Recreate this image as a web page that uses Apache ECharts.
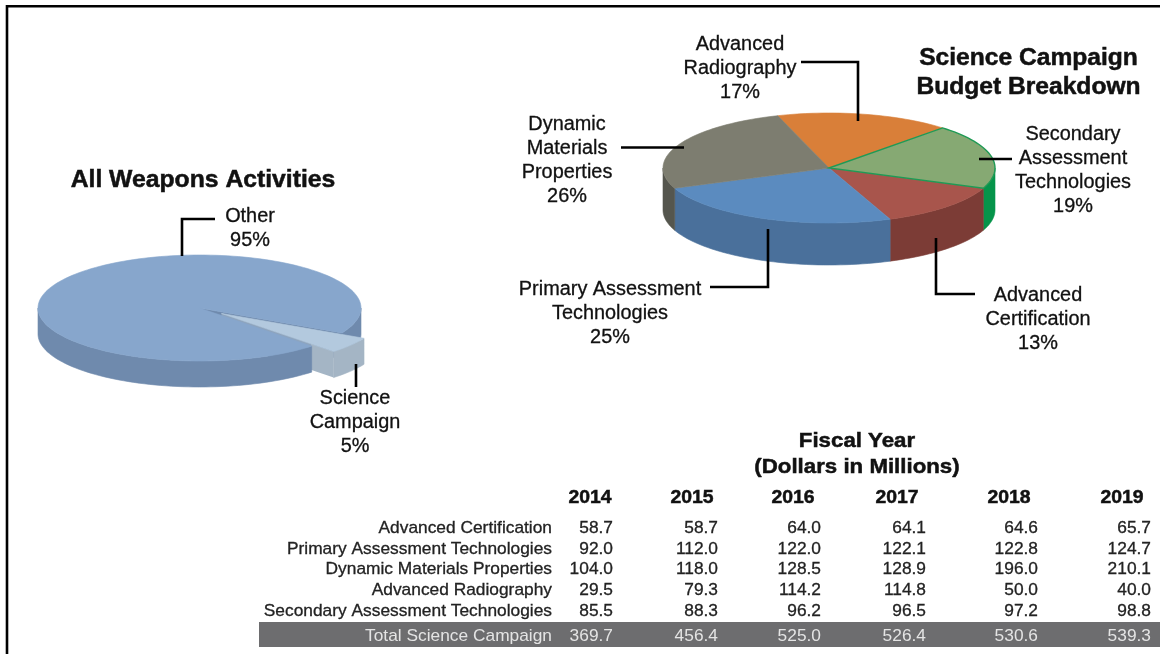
<!DOCTYPE html>
<html><head><meta charset="utf-8">
<style>html,body{margin:0;padding:0;background:#fff}#c{width:1160px;height:654px}</style>
<script src="https://cdn.jsdelivr.net/npm/echarts@6/dist/echarts.min.js"></script>
</head><body><div id="c"></div>
<script>
// ---- data ----
const budgetNames = ['Advanced Radiography','Secondary Assessment Technologies','Advanced Certification','Primary Assessment Technologies','Dynamic Materials Properties'];
const budgetShares = [17,19,13,25,26];
const weaponsNames = ['Other','Science Campaign'];
const weaponsShares = [95,5];
const years = ['2014','2015','2016','2017','2018','2019'];
const rowLabels = ['Advanced Certification','Primary Assessment Technologies','Dynamic Materials Properties','Advanced Radiography','Secondary Assessment Technologies'];
const advCert = ['58.7','58.7','64.0','64.1','64.6','65.7'];
const primary = ['92.0','112.0','122.0','122.1','122.8','124.7'];
const dynamic = ['104.0','118.0','128.5','128.9','196.0','210.1'];
const radiography = ['29.5','79.3','114.2','114.8','50.0','40.0'];
const secondary = ['85.5','88.3','96.2','96.5','97.2','98.8'];
const totals = ['369.7','456.4','525.0','526.4','530.6','539.3'];

// ---- style / layout ----
const FONT = '"Liberation Sans", Arial, sans-serif';
const budgetTop = ['#d97f39','#86a973','#a8554c','#5b8bbf','#7d7d70'];
const budgetSide = ['#b0662e','#05944a','#7c3c36','#4a709b','#55564e'];
const budgetGeo = {cx:829,cy:168,rx:166,ry:55,depth:42,start:252};
const weaponsGeo = {cx:199.5,cy:308,rx:161.5,ry:53,depth:26,start:46,explode:0.17};

function angles(vals,start){
  const sum=vals.reduce((a,b)=>a+b,0); let a=start; 
  return vals.map(v=>{const s=a; a+=v/sum*360; return [s,a];});
}
function pt(g,deg,ox,oy,dz){
  const t=deg*Math.PI/180;
  return [g.cx+(ox||0)+g.rx*Math.cos(t), g.cy+(oy||0)+g.ry*Math.sin(t)+(dz||0)];
}
function arc(g,a,b,ox,oy,dz){
  const n=Math.max(2,Math.ceil(Math.abs(b-a)/2)), out=[];
  for(let i=0;i<=n;i++) out.push(pt(g,a+(b-a)*i/n,ox,oy,dz));
  return out;
}
function poly(points,fill,extra){
  return Object.assign({type:'polygon',shape:{points},style:{fill,stroke:fill,lineWidth:0.6}},extra||{});
}
function topFace(g,a,b,ox,oy,fill,extra){
  return poly([[g.cx+(ox||0),g.cy+(oy||0)]].concat(arc(g,a,b,ox,oy)),fill,extra);
}
function rim(g,a,b,ox,oy,fill){
  return poly(arc(g,a,b,ox,oy).concat(arc(g,b,a,ox,oy,g.depth)),fill);
}
function visibleRims(g,a,b,ox,oy,fill){
  const res=[];
  [[0,180],[360,540]].forEach(w=>{
    const s=Math.max(a,w[0]), e=Math.min(b,w[1]);
    if(e>s) res.push(rim(g,s,e,ox,oy,fill));
  });
  return res;
}
function customPie(name,names,vals,z,draw){
  return {type:'custom',name,coordinateSystem:'none',z,silent:true,
    data:names.map((n,i)=>({name:n,value:vals[i]})),
    renderItem:(p)=>({type:'group',children:draw(p.dataIndex)})};
}

const bAng=angles(budgetShares,budgetGeo.start);
const wAng=angles(weaponsShares,weaponsGeo.start);
const t0=(wAng[1][0]+wAng[1][1])/2*Math.PI/180;
const wOx=weaponsGeo.explode*weaponsGeo.rx*Math.cos(t0), wOy=weaponsGeo.explode*weaponsGeo.ry*Math.sin(t0);

const series=[
  customPie('Budget sides',budgetNames,budgetShares,2,i=>visibleRims(budgetGeo,bAng[i][0],bAng[i][1],0,0,budgetSide[i])),
  customPie('Budget tops',budgetNames,budgetShares,3,i=>{
    const green=i===1;
    const f=topFace(budgetGeo,bAng[i][0],bAng[i][1],0,0,budgetTop[i],{z2:green?5:1});
    if(green){f.style.stroke='#1f9a55';f.style.lineWidth=1.4;}
    return [f];
  }),
  customPie('Weapons back',weaponsNames,weaponsShares,2,i=>{
    if(i!==0) return [];
    const g=weaponsGeo,e=wAng[0][1],p=pt(g,e);
    return [poly([[g.cx,g.cy],p,[p[0],p[1]+g.depth],[g.cx,g.cy+g.depth]],'#6f8aad')]
      .concat(visibleRims(g,360,e,0,0,'#6f8aad'));
  }),
  customPie('Weapons wedge',weaponsNames,weaponsShares,3,i=>{
    if(i!==1) return [];
    const g=weaponsGeo,a=wAng[1][0]-360,b=wAng[1][1]-360+0;
    const s=Math.min(a,b)+0, ee=Math.max(a,b);
    const ap=[g.cx+wOx,g.cy+wOy], q=pt(g,wAng[1][1]-360,wOx,wOy);
    const grad={type:'linear',global:true,x:ap[0],y:0,x2:q[0],y2:0,colorStops:[
      {offset:0,color:'#8ea4bd'},{offset:0.8,color:'#8ea4bd'},{offset:0.8,color:'#a4b5c5'},{offset:1,color:'#a4b5c5'}]};
    const face=poly([ap,q,[q[0],q[1]+g.depth],[ap[0],ap[1]+g.depth]],grad);
    face.style.stroke=null; face.style.lineWidth=0;
    return [face,rim(g,s,ee,wOx,wOy,'#a4b5c5'),topFace(g,s,ee,wOx,wOy,'#b3c9de')];
  }),
  customPie('Weapons front',weaponsNames,weaponsShares,4,i=>{
    if(i!==0) return [];
    const g=weaponsGeo;
    return [rim(g,wAng[0][0],180,0,0,'#6f8aad'),topFace(g,wAng[0][0],wAng[0][1],0,0,'#87a6cc')];
  })
];

// ---- text and leader lines ----
const els=[];
function txt(t,x,y,o){
  o=o||{};
  const fill=o.fill||'#111';
  const sw=o.thin?0:(o.bold?0.5:0.3);
  els.push({type:'text',x,y:y+1.5,scaleX:o.sx||1.02,z:20,silent:true,style:{text:t,x:0,y:0,
    align:o.align||'center',verticalAlign:'middle',fontFamily:FONT,
    fontSize:o.size||19.5,fontWeight:o.bold?'bold':'normal',fill,
    stroke:sw?fill:null,lineWidth:sw}});
}
function stack(lines,x,y0,o,dy){lines.forEach((l,i)=>txt(l,x,y0+i*(dy||24),o));}
function lead(points,w){
  els.push({type:'polyline',z:20,silent:true,shape:{points},style:{stroke:'#000',lineWidth:w||2.6,fill:null,lineJoin:'miter'}});
}
// frame
els.push({type:'polyline',z:0,silent:true,shape:{points:[[1160,6.3],[7,6.3],[7,654]]},style:{stroke:'#000',lineWidth:2.6,fill:null}});

stack(['Advanced','Radiography','17%'],740,43);
stack(['Dynamic','Materials','Properties','26%'],567,123);
stack(['Secondary','Assessment','Technologies','19%'],1073,133);
stack(['Primary Assessment','Technologies','25%'],610,288);
stack(['Advanced','Certification','13%'],1038,294);
stack(['Science Campaign','Budget Breakdown'],1028.5,57,{bold:true,size:24,sx:1.025},29);
txt('All Weapons Activities',203,179,{bold:true,size:24,sx:1.03});
stack(['Other','95%'],250,215);
stack(['Science','Campaign','5%'],355,397);

lead([[801,62],[858,62],[858,121]]);
lead([[621,147.5],[684,147.5]]);
lead([[979,159],[1012,159]]);
lead([[710,287],[768,287],[768,229]]);
lead([[936,238],[936,294],[975,294]]);
lead([[182,256],[182,219],[215,219]]);
lead([[356,364],[356,387]]);

// ---- table ----
stack(['Fiscal Year','(Dollars in Millions)'],857,440,{bold:true,size:21,sx:1.06},26);
const yearX=[590,692,793,897,1009,1122];
years.forEach((y,i)=>txt(y,yearX[i],496.5,{bold:true,size:19,sx:1.02}));
const colRight=[613,718,821,926,1038,1151];
const rows=[advCert,primary,dynamic,radiography,secondary];
const rowY=[527,548,568,589,610];
rows.forEach((r,ri)=>{
  txt(rowLabels[ri],552,rowY[ri],{align:'right',size:17,sx:1.02,fill:'#222'});
  r.forEach((v,ci)=>txt(v,colRight[ci],rowY[ri],{align:'right',size:17,sx:1.02,fill:'#222'}));
});
els.push({type:'rect',z:10,silent:true,shape:{x:259,y:622,width:901,height:25},style:{fill:'#6d6d6f'}});
const lightText={align:'right',size:17,sx:1.02,fill:'#e4e4e4',thin:true};
txt('Total Science Campaign',552,634.5,lightText);
totals.forEach((v,ci)=>txt(v,colRight[ci],634.5,lightText));

const chart=echarts.init(document.getElementById('c'),null,{renderer:'canvas'});
chart.setOption({animation:false,backgroundColor:'#fff',series,graphic:{elements:els}});
</script></body></html>
